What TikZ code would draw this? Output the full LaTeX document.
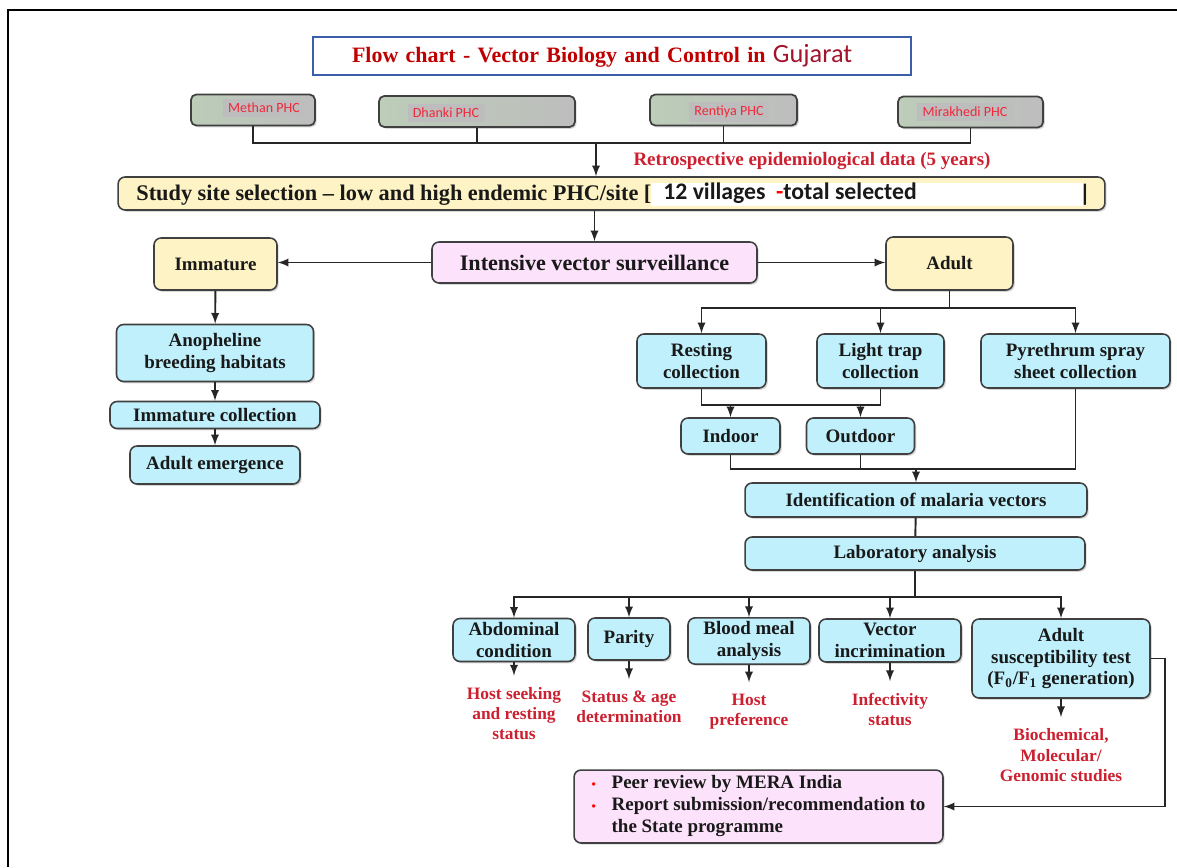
\documentclass[tikz,border=0pt]{standalone}
\usepackage{fontspec}
\setmainfont{Liberation Serif}
\newfontfamily\calfont{Carlito}
\usetikzlibrary{calc,positioning,arrows,shadows}
\definecolor{boxline}{HTML}{404040}
\definecolor{linkgray}{HTML}{262626}
\definecolor{cyanfill}{HTML}{BFF0FC}
\definecolor{yelfill}{HTML}{FDF3C4}
\definecolor{pinkfill}{HTML}{FDE2FC}
\definecolor{titleblue}{HTML}{3B5EAA}
\definecolor{titlered}{HTML}{C00000}
\definecolor{gujred}{HTML}{A3142C}
\definecolor{resred}{HTML}{CC2030}
\definecolor{phcred}{HTML}{F0283A}
\definecolor{phcgreen}{HTML}{BCCDB8}
\definecolor{phcgray}{HTML}{BDBDBD}
\tikzset{
    boxtext/.style={font=\fontsize{10.8}{12.5}\selectfont\bfseries, text=black!90},
    cyanbox/.style={rectangle, rounded corners=4pt, draw=boxline, line width=0.9pt, fill=cyanfill, boxtext, align=center, inner sep=2pt,
      drop shadow={shadow xshift=1pt, shadow yshift=-1pt, opacity=0.3}},
    yelbox/.style={cyanbox, fill=yelfill},
    pinkbox/.style={cyanbox, fill=pinkfill},
    titlebox/.style={rectangle, draw=titleblue, line width=1.4pt, fill=white, minimum height=0.76cm, inner xsep=0.78cm, text width=10.4cm, align=left,
      text=titlered, font=\fontsize{12.5}{14}\selectfont\bfseries},
    phc/.style={rectangle, rounded corners=3pt, draw=boxline, line width=1pt, left color=phcgreen, right color=phcgray, minimum height=0.62cm,
      drop shadow={shadow xshift=1pt, shadow yshift=-1pt, opacity=0.3}},
    phclbl/.style={fill=phcgray, text=phcred, font=\calfont\fontsize{8}{9}\selectfont, inner xsep=3pt, inner ysep=2.5pt},
    retro/.style={text=resred, font=\fontsize{10.8}{12}\selectfont\bfseries, inner sep=0pt},
    result/.style={text=resred, font=\fontsize{9.9}{11.4}\selectfont\bfseries, align=center, inner sep=1pt},
    link/.style={draw=linkgray, line width=1.1pt},
    arrow/.style={link, -latex},
    resarrow/.style={arrow, shorten >=5.5pt},
}
\begin{document}
\begin{tikzpicture}[x=0.02cm, y=-0.02cm]
\fill[white] (0,0) rectangle (1177,867);
\useasboundingbox (0,0) rectangle (1177,867);
\draw[line width=1.3pt] (8,867) -- (8,10) -- (1177,10);

% title and PHCs
\node[titlebox] (title) at (612,56) {Flow chart - Vector Biology and Control in {\calfont\mdseries\color{gujred}\fontsize{15}{16}\selectfont Gujarat}};
\node[phc, minimum width=2.48cm] (methan) at (253,110) {};
\node[phclbl] (methanlbl) at (264,108) {Methan PHC};
\node[phc, minimum width=3.92cm] (dhanki) at (477,111.5) {};
\node[phclbl] (dhankilbl) at (446,113) {Dhanki PHC};
\node[phc, minimum width=2.94cm] (rentiya) at (723.5,110) {};
\node[phclbl] (rentiyalbl) at (729,112) {Rentiya PHC};
\node[phc, minimum width=2.9cm] (mirakhedi) at (970.5,112) {};
\node[phclbl] (mirakhedilbl) at (965,112) {Mirakhedi PHC};
\coordinate (phcbus) at (596,143);
\foreach \p in {methan,dhanki,rentiya,mirakhedi}
  \draw[link] (\p.south) |- (phcbus);
\node[retro] (retro) at (812,161) {Retrospective epidemiological data (5 years)};

% study site
\node[yelbox, minimum width=19.74cm, minimum height=0.66cm] (study) at (611.5,193.5) {};
\node[fill=white, inner sep=0pt, minimum width=8.64cm, minimum height=0.46cm, anchor=west] (vilpatch) at (651,194.5) {};
\node[anchor=west, inner sep=0pt, font=\fontsize{12.7}{14}\selectfont\bfseries, text=black!90] (studytxt) at (136,195) {Study site selection -- low and high endemic PHC/site [};
\node[anchor=west, inner sep=0pt, font=\calfont\fontsize{13.5}{15}\selectfont\bfseries, text=black!90] (villtxt) at (663,193) {12 villages\hspace{6pt}\textcolor{red}{-}total selected};
\node[inner sep=0pt, font=\calfont\fontsize{13.5}{15}\selectfont\bfseries, text=black!90] (studybar) at (1085,195) {|};
\draw[arrow] (phcbus) -- (phcbus |- study.north);

% surveillance
\node[pinkbox, minimum width=6.5cm, minimum height=0.82cm, font=\fontsize{12.6}{14}\selectfont\bfseries] (intens) at (594.5,262.5) {Intensive vector surveillance};
\node[yelbox, minimum width=2.46cm, minimum height=1.04cm] (immat) at (215.5,264) {Immature};
\node[yelbox, minimum width=2.54cm, minimum height=1.06cm] (adult) at (949.5,263.5) {Adult};
\draw[arrow] (intens.north |- study.south) -- (intens.north);
\draw[arrow] (intens.west) -- (intens.west -| immat.east);
\draw[arrow] (intens.east) -- (intens.east -| adult.west);

% immature branch
\node[cyanbox, minimum width=3.94cm, minimum height=1.14cm] (anoph) at (215,353) {Anopheline\\breeding habitats};
\node[cyanbox, minimum width=4.2cm, minimum height=0.54cm] (icoll) at (215,415) {Immature collection};
\node[cyanbox, minimum width=3.4cm, minimum height=0.76cm] (emerg) at (215,465) {Adult emergence};
\draw[arrow] (immat) -- (anoph);
\draw[arrow] (anoph) -- (icoll);
\draw[arrow] (icoll) -- (emerg);

% adult branch
\node[cyanbox, minimum width=2.58cm, minimum height=1.08cm] (rest) at (701.5,361) {Resting\\collection};
\node[cyanbox, minimum width=2.54cm, minimum height=1.08cm] (light) at (880.5,361) {Light trap\\collection};
\node[cyanbox, minimum width=3.78cm, minimum height=1.08cm] (pyre) at (1075.5,361) {Pyrethrum spray\\sheet collection};
\path (adult.south) ++(0,17) coordinate (adsplit);
\draw[link] (adult.south) -- (adsplit);
\foreach \b in {rest,light,pyre}
  \draw[arrow] (adsplit) -| (\b.north);

\node[cyanbox, minimum width=1.98cm, minimum height=0.72cm] (indoor) at (730.5,436) {Indoor};
\node[cyanbox, minimum width=2.16cm, minimum height=0.72cm] (outdoor) at (860.5,436) {Outdoor};
\path (rest.south) ++(0,16) coordinate (rlsplit);
\draw[link] (rest.south) -- (rlsplit) -| (light.south);
\draw[arrow] (rlsplit -| indoor) -- (indoor.north);
\draw[arrow] (rlsplit -| outdoor) -- (outdoor.north);

\node[cyanbox, minimum width=6.84cm, minimum height=0.68cm] (ident) at (916,500) {Identification of malaria vectors};
\node[cyanbox, minimum width=6.8cm, minimum height=0.66cm] (lab) at (915,553.5) {Laboratory analysis};
\path (indoor.south) ++(0,14) coordinate (iomerge);
\draw[link] (indoor.south) -- (iomerge) -| (pyre.south);
\draw[link] (outdoor.south) -- (outdoor.south |- iomerge);
\draw[arrow] (iomerge -| ident) -- (ident.north);
\draw[link] (ident) -- (lab);

% laboratory analysis
\node[cyanbox, minimum width=2.44cm, minimum height=0.86cm] (abdo) at (514,640) {Abdominal\\condition};
\node[cyanbox, minimum width=1.64cm, minimum height=0.84cm] (parity) at (629,639) {Parity};
\node[cyanbox, minimum width=2.44cm, minimum height=0.86cm] (blood) at (749,641) {Blood meal\\analysis};
\node[cyanbox, minimum width=2.84cm, minimum height=0.86cm] (vector) at (890,640.5) {Vector\\incrimination};
\node[cyanbox, minimum width=3.56cm, minimum height=1.58cm] (suscept) at (1061,658.5) {Adult\\susceptibility test\\(F\textsubscript{0}/F\textsubscript{1} generation)};
\path (lab.south) ++(0,26) coordinate (labsplit);
\draw[link] (lab.south) -- (labsplit);
\foreach \b in {abdo,parity,blood,vector,suscept}
  \draw[arrow] (labsplit) -| (\b.north);

\node[result, below=0.46cm of abdo] (res-abdo) {Host seeking\\and resting\\status};
\node[result, below=0.56cm of parity] (res-parity) {Status \& age\\determination};
\node[result, below=0.54cm of blood] (res-blood) {Host\\preference};
\node[result, below=0.56cm of vector] (res-vector) {Infectivity\\status};
\node[result, below=0.56cm of suscept] (res-suscept) {Biochemical,\\Molecular/\\Genomic studies};
\foreach \b in {abdo,parity,blood,vector,suscept}
  \draw[resarrow] (\b) -- (res-\b);

% review
\node[pinkbox, minimum width=7.38cm, minimum height=1.4cm] (peer) at (758.5,806.5) {%
  \begin{tabular}{@{}l@{\hspace{9pt}}l@{}}
  \textcolor{red}{\fontsize{7}{8}\selectfont\textbullet} & Peer review by MERA India\\
  \textcolor{red}{\fontsize{7}{8}\selectfont\textbullet} & Report submission/recommendation to\\
   & the State programme
  \end{tabular}};
\path (suscept.east) ++(14,0) coordinate (sbend);
\draw[arrow] (suscept.east) -- (sbend) |- (peer.east);
\end{tikzpicture}
\end{document}
